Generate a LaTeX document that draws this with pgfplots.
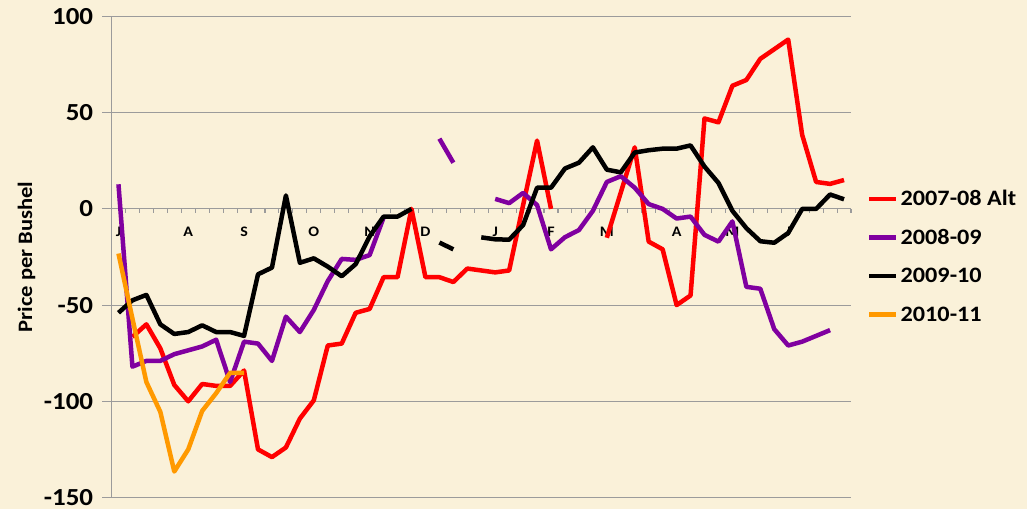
\documentclass[border=0pt]{standalone}
\usepackage{fontspec}
\setmainfont{Carlito}[FakeStretch=1.1]
\usepackage{pgfplots}
\pgfplotsset{compat=1.18}
\definecolor{bg}{RGB}{250,241,217}
\definecolor{gridc}{RGB}{155,155,155}
\definecolor{myred}{RGB}{255,0,0}
\definecolor{mypurple}{RGB}{128,0,160}
\definecolor{myorange}{RGB}{255,153,0}
\begin{document}
\begin{tikzpicture}
\fill[bg] (-111.5pt,-11.5pt) rectangle (915.5pt,497.5pt);
\begin{axis}[
  at={(0pt,0pt)}, anchor=south west,
  scale only axis, width=739.5pt, height=481pt,
  xmin=-0.5, xmax=52.5, ymin=-150, ymax=100,
  axis x line=middle, axis y line=left,
  hide obscured x ticks=false, hide obscured y ticks=false,
  axis line style={-, draw=gridc, line width=1.1pt},
  ymajorgrids, grid style={draw=gridc, line width=1.1pt},
  ytick={-150,-100,-50,0,50,100},
  yticklabels={-150,-100,-50,0,50,100},
  ytick align=outside,
  major tick length=9pt,
  minor tick length=4pt,
  tick style={draw=gridc, line width=1.1pt},
  xtick={0,5,9,14,18,22,27,31,35,40,44,48},
  xticklabels={J,A,S,O,N,D,J,F,M,A,M,J},
  minor xtick={-0.5,0.5,...,52.5},
  major x tick style={draw=none},
  minor x tick style={draw=gridc, line width=1.1pt, yshift=-2pt},
  yticklabel style={font=\fontsize{24.5}{24.5}\selectfont\bfseries, inner sep=0pt, xshift=-9.2pt},
  xticklabel style={font=\fontsize{14.5}{14.5}\selectfont\bfseries, anchor=base, yshift=-23.5pt},
  ylabel={Price per Bushel},
  ylabel style={font=\fontsize{20.5}{20.5}\selectfont\bfseries, at={(axis description cs:-0.1075,0.5)}, anchor=base},
  unbounded coords=jump,
  legend style={at={(1.0216,0.501)}, anchor=west, draw=none, fill=none,
    font=\fontsize{22}{22}\selectfont\bfseries, inner sep=0pt, row sep=24.5pt,
    nodes={inner sep=0pt, text height=14pt, text depth=0pt}, column sep=2pt},
  legend cell align=left,
  legend image code/.code={\draw[#1] (0pt,0pt) -- (27pt,0pt);},
  every axis plot/.append style={line width=4.5pt, line join=round},
]
\addplot[myred] coordinates {
(0,nan) (1,-66.5) (2,-60) (3,-72.5) (4,-91.5) (5,-100) (6,-91) (7,-92) (8,-92) (9,-84)
(10,-125) (11,-129) (12,-124) (13,-109) (14,-99.5) (15,-71) (16,-70) (17,-54) (18,-52) (19,-35.5)
(20,-35.5) (21,0) (22,-35.5) (23,-35.5) (24,-38) (25,-31) (26,-32) (27,-33) (28,-32) (29,2)
(30,35.5) (31,0) (32,nan) (33,nan) (34,nan) (35,-15) (36,8.5) (37,32) (38,-17) (39,-21)
(40,-50) (41,-45) (42,47) (43,45) (44,64) (45,67) (46,78) (47,83) (48,88) (49,38.5)
(50,14) (51,13) (52,15)};
\addlegendentry{2007-08 Alt}
\addplot[mypurple] coordinates {
(0,12.8) (1,-82) (2,-79) (3,-79) (4,-75.5) (5,-73.5) (6,-71.5) (7,-68) (8,-90) (9,-69)
(10,-70) (11,-79) (12,-56) (13,-64) (14,-52.5) (15,-37.5) (16,-26) (17,-26.5) (18,-24) (19,-4.5)
(20,nan) (21,nan) (22,nan) (23,36.5) (24,24) (25,nan) (26,nan) (27,5.2) (28,3) (29,8.3)
(30,2) (31,-21) (32,-14.7) (33,-11) (34,-1) (35,14) (36,17) (37,11) (38,2.5) (39,0)
(40,-5) (41,-4) (42,-13.5) (43,-17) (44,-6.5) (45,-40.5) (46,-41.5) (47,-62.5) (48,-71) (49,-69)
(50,-66) (51,-63) (52,nan)};
\addlegendentry{2008-09}
\addplot[black] coordinates {
(0,-54) (1,-47.5) (2,-44.7) (3,-60) (4,-65) (5,-64) (6,-60.5) (7,-64) (8,-64) (9,-66)
(10,-34) (11,-30.5) (12,7) (13,-28) (14,-25.7) (15,-30) (16,-35) (17,-28.7) (18,-14.3) (19,-4)
(20,-4) (21,0) (22,nan) (23,-17.5) (24,-21) (25,nan) (26,-14.8) (27,-15.8) (28,-16) (29,-8.4)
(30,11) (31,11) (32,21) (33,24) (34,32) (35,20.4) (36,19) (37,29.3) (38,30.5) (39,31.3)
(40,31.3) (41,33) (42,22) (43,13.5) (44,-1) (45,-10) (46,-16.8) (47,-17.6) (48,-12.5) (49,0)
(50,0) (51,7.5) (52,5)};
\addlegendentry{2009-10}
\addplot[myorange] coordinates {
(0,-23.2) (1,-57) (2,-90) (3,-105.5) (4,-136.5) (5,-125) (6,-105) (7,-95.8) (8,-85.2) (9,-85.2)};
\addlegendentry{2010-11}
\end{axis}
\pgfresetboundingbox
\path[use as bounding box] (-111.5pt,-11.5pt) rectangle (915.5pt,497.5pt);
\end{tikzpicture}
\end{document}
